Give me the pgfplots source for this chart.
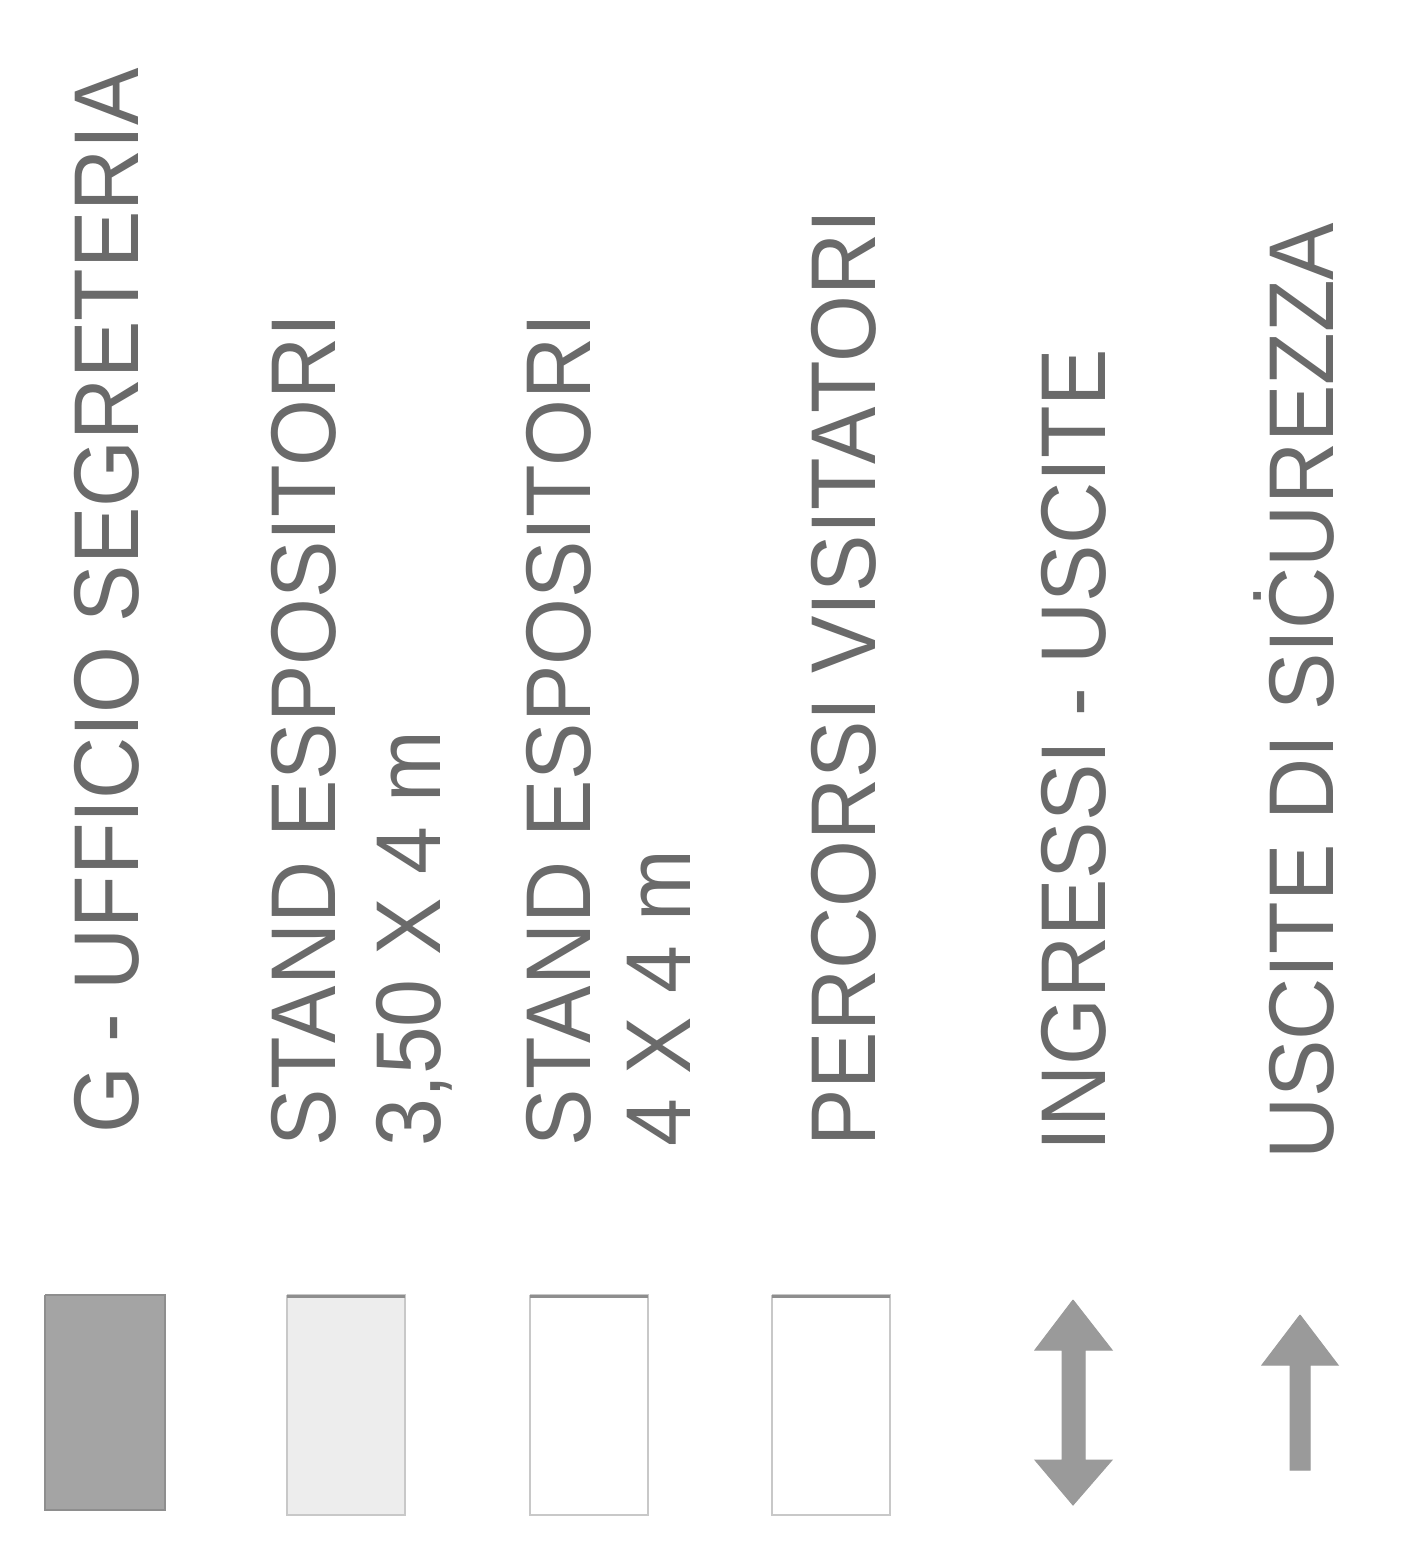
\documentclass[border=0pt]{standalone}
\usepackage{pgfplots}
\pgfplotsset{compat=1.18}
\usepackage{fontspec}
\setmainfont{Liberation Sans}
\definecolor{txt}{HTML}{6A6A6A}
\definecolor{sw1}{HTML}{A4A4A4}
\definecolor{sw1e}{HTML}{8E8E8E}
\definecolor{sw2}{HTML}{EDEDED}
\definecolor{edge}{HTML}{C8C8C8}
\definecolor{arr}{HTML}{9A9A9A}
\tikzset{lab/.style={rotate=90, anchor=base west, text=txt, inner sep=0pt, font=\fontsize{46}{50}\selectfont}}
\begin{document}
\begin{tikzpicture}
\begin{axis}[
  width=705.5pt, height=779.5pt, scale only axis,
  xmin=0, xmax=1411, ymin=0, ymax=1559, y dir=reverse,
  hide axis, clip=false,
]
% background (keeps page size)
\addplot[fill=white, draw=none] coordinates {(0,0) (1411,0) (1411,1559) (0,1559) (0,0)};
% swatches
\addplot[fill=sw1, draw=sw1e, line width=1pt] coordinates {(45,1295) (165,1295) (165,1510) (45,1510) (45,1295)};
\addplot[fill=sw2, draw=edge, line width=1pt] coordinates {(287,1295) (405,1295) (405,1515) (287,1515) (287,1295)};
\addplot[fill=white, draw=edge, line width=1pt] coordinates {(530,1295) (648,1295) (648,1515) (530,1515) (530,1295)};
\addplot[fill=white, draw=edge, line width=1pt] coordinates {(772,1295) (890,1295) (890,1515) (772,1515) (772,1295)};
% top edges darker
\addplot[draw=sw1e, line width=1.5pt] coordinates {(287,1296) (405,1296)};
\addplot[draw=sw1e, line width=1.5pt] coordinates {(530,1296) (648,1296)};
\addplot[draw=sw1e, line width=1.5pt] coordinates {(772,1296) (890,1296)};
% double arrow
\addplot[fill=arr, draw=arr, line width=0.5pt] coordinates {
 (1073,1300) (1112,1350) (1085,1350) (1085,1460) (1112,1460) (1073,1505)
 (1035,1460) (1062,1460) (1062,1350) (1035,1350) (1073,1300)};
% single arrow
\addplot[fill=arr, draw=arr, line width=0.5pt] coordinates {
 (1300,1315) (1338,1365) (1310,1365) (1310,1470) (1290,1470) (1290,1365) (1262,1365) (1300,1315)};
% texts
\node[lab] at (axis cs:138,1134) {\scalebox{0.935}[1]{G - UFFICIO SEGRETERIA}};
\node[lab] at (axis cs:335,1147) {\scalebox{0.935}[1]{STAND ESPOSITORI}};
\node[lab] at (axis cs:440,1147) {\scalebox{0.935}[1]{3,50 X 4 m}};
\node[lab] at (axis cs:590,1147) {\scalebox{0.935}[1]{STAND ESPOSITORI}};
\node[lab] at (axis cs:690,1147) {\scalebox{0.935}[1]{4 X 4 m}};
\node[lab] at (axis cs:875,1147) {\scalebox{0.935}[1]{PERCORSI VISITATORI}};
\node[lab] at (axis cs:1105,1152) {\scalebox{0.935}[1]{INGRESSI - USCITE}};
\node[lab] at (axis cs:1333,1160) {\scalebox{0.935}[1]{USCITE DI SIĊUREZZA}};
\end{axis}
\end{tikzpicture}
\end{document}
